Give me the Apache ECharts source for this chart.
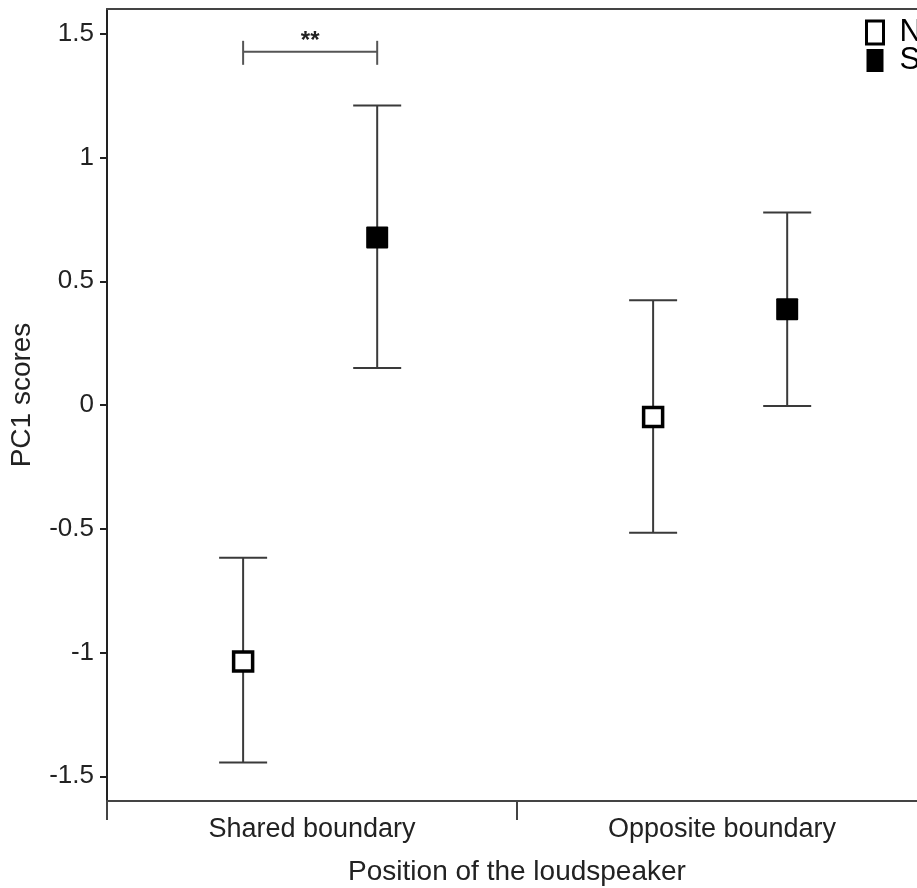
<!DOCTYPE html>
<html>
<head>
<meta charset="utf-8">
<script src="https://cdn.jsdelivr.net/npm/echarts@6/dist/echarts.min.js"></script>
<style>html,body{margin:0;padding:0;background:#fff;overflow:hidden;}#c{width:917px;height:888px;}</style>
</head>
<body>
<div id="c"></div>
<script>
// ---- data ----
const categories = ['Shared boundary', 'Opposite boundary'];
// [categoryIndex, mean, lower, upper]
const seriesN = [[0, -1.036, -1.444, -0.617], [1, -0.048, -0.516, 0.423]];
const seriesS = [[0, 0.677, 0.149, 1.210], [1, 0.387, -0.004, 0.778]];
const yTickLabels = [-1.5, -1, -0.5, 0, 0.5, 1, 1.5];
// significance bracket: [categoryIndex, y, label]
const sigBrackets = [[0, 1.427, '**']];

const OFF_N = -0.168, OFF_S = 0.159;
const LINE = '#3a3a3a';

function errRender(offset, filled) {
  return function (params, api) {
    const cat = api.value(0);
    const band = api.size([1, 0])[0];
    const c = api.coord([cat, api.value(1)]);
    const x = c[0] + offset * band;
    const lo = api.coord([cat, api.value(2)])[1];
    const hi = api.coord([cat, api.value(3)])[1];
    const cap = 24, m = 22;
    const ls = { stroke: LINE, lineWidth: 2 };
    const children = [
      { type: 'line', shape: { x1: x, y1: hi, x2: x, y2: lo }, style: ls },
      { type: 'line', shape: { x1: x - cap, y1: hi, x2: x + cap, y2: hi }, style: ls },
      { type: 'line', shape: { x1: x - cap, y1: lo, x2: x + cap, y2: lo }, style: ls }
    ];
    if (filled) {
      children.push({ type: 'rect', shape: { x: x - m / 2, y: c[1] - m / 2, width: m, height: m, r: 1 }, style: { fill: '#000' } });
    } else {
      children.push({ type: 'rect', shape: { x: x - m / 2 + 1.5, y: c[1] - m / 2 + 1.5, width: m - 3, height: m - 3 }, style: { fill: '#fff', stroke: '#000', lineWidth: 3.5 } });
    }
    return { type: 'group', children };
  };
}

function sigRender(params, api) {
  const cat = api.value(0);
  const band = api.size([1, 0])[0];
  const c = api.coord([cat, api.value(1)]);
  const x1 = c[0] + OFF_N * band, x2 = c[0] + OFF_S * band, y = c[1];
  const ls = { stroke: '#555', lineWidth: 2 };
  return {
    type: 'group', children: [
      { type: 'line', shape: { x1: x1, y1: y, x2: x2, y2: y }, style: ls },
      { type: 'line', shape: { x1: x1, y1: y - 11, x2: x1, y2: y + 13 }, style: ls },
      { type: 'line', shape: { x1: x2, y1: y - 11, x2: x2, y2: y + 13 }, style: ls },
      { type: 'text', style: { text: sigBrackets[params.dataIndex][2], x: (x1 + x2) / 2, y: y - 22, align: 'center', verticalAlign: 'top', font: 'bold 24px "Liberation Sans", Arial', fill: '#222' } }
    ]
  };
}

const chart = echarts.init(document.getElementById('c'));
const font = '"Liberation Sans", Arial, Helvetica, sans-serif';
chart.setOption({
  animation: false,
  grid: { left: 107, width: 820, top: 9, bottom: 87, containLabel: false, outerBoundsMode: 'none' },
  legend: {
    orient: 'vertical', left: 865, top: 17, itemWidth: 17, itemHeight: 23, itemGap: -3, padding: 0,
    textStyle: { fontFamily: font, fontSize: 31, color: '#000', lineHeight: 23, padding: [2, 0, 0, 11] },
    data: [
      { name: 'N', icon: 'rect', itemStyle: { color: '#fff', borderColor: '#000', borderWidth: 3 } },
      { name: 'S', icon: 'rect', itemStyle: { color: '#000', borderWidth: 0 } }
    ]
  },
  xAxis: [{
    type: 'category', data: categories, boundaryGap: true,
    axisLine: { onZero: false, lineStyle: { color: '#444', width: 2 } },
    axisTick: { show: true, length: 19, lineStyle: { color: '#444', width: 2 } },
    axisLabel: { fontFamily: font, fontSize: 27, color: '#222', margin: 15 },
    name: 'Position of the loudspeaker', nameLocation: 'middle', nameGap: 57,
    nameTextStyle: { fontFamily: font, fontSize: 28, color: '#222' }
  }, {
    type: 'category', data: categories, position: 'top',
    axisLine: { show: true, onZero: false, lineStyle: { color: '#444', width: 2 } },
    axisTick: { show: false }, axisLabel: { show: false }
  }],
  yAxis: {
    type: 'value', min: -1.6, max: 1.6,
    axisLine: { show: true, lineStyle: { color: '#222', width: 2 } },
    axisTick: { show: true, length: 7, customValues: yTickLabels, lineStyle: { color: '#222', width: 2 } },
    axisLabel: { fontFamily: font, fontSize: 26, color: '#222', margin: 13, customValues: yTickLabels },
    splitLine: { show: false },
    name: 'PC1 scores', nameLocation: 'middle', nameRotate: 90, nameGap: 71,
    nameTextStyle: { fontFamily: font, fontSize: 28, color: '#222', padding: [0, 0, 0, 20] }
  },
  series: [
    { name: 'N', type: 'custom', renderItem: errRender(OFF_N, false), encode: { x: 0, y: [1, 2, 3] }, data: seriesN, itemStyle: { color: '#fff', borderColor: '#000' } },
    { name: 'S', type: 'custom', renderItem: errRender(OFF_S, true), encode: { x: 0, y: [1, 2, 3] }, data: seriesS, itemStyle: { color: '#000' } },
    { name: 'sig', type: 'custom', renderItem: sigRender, encode: { x: 0, y: 1 }, data: sigBrackets.map(d => [d[0], d[1]]) }
  ]
});
</script>
</body>
</html>
